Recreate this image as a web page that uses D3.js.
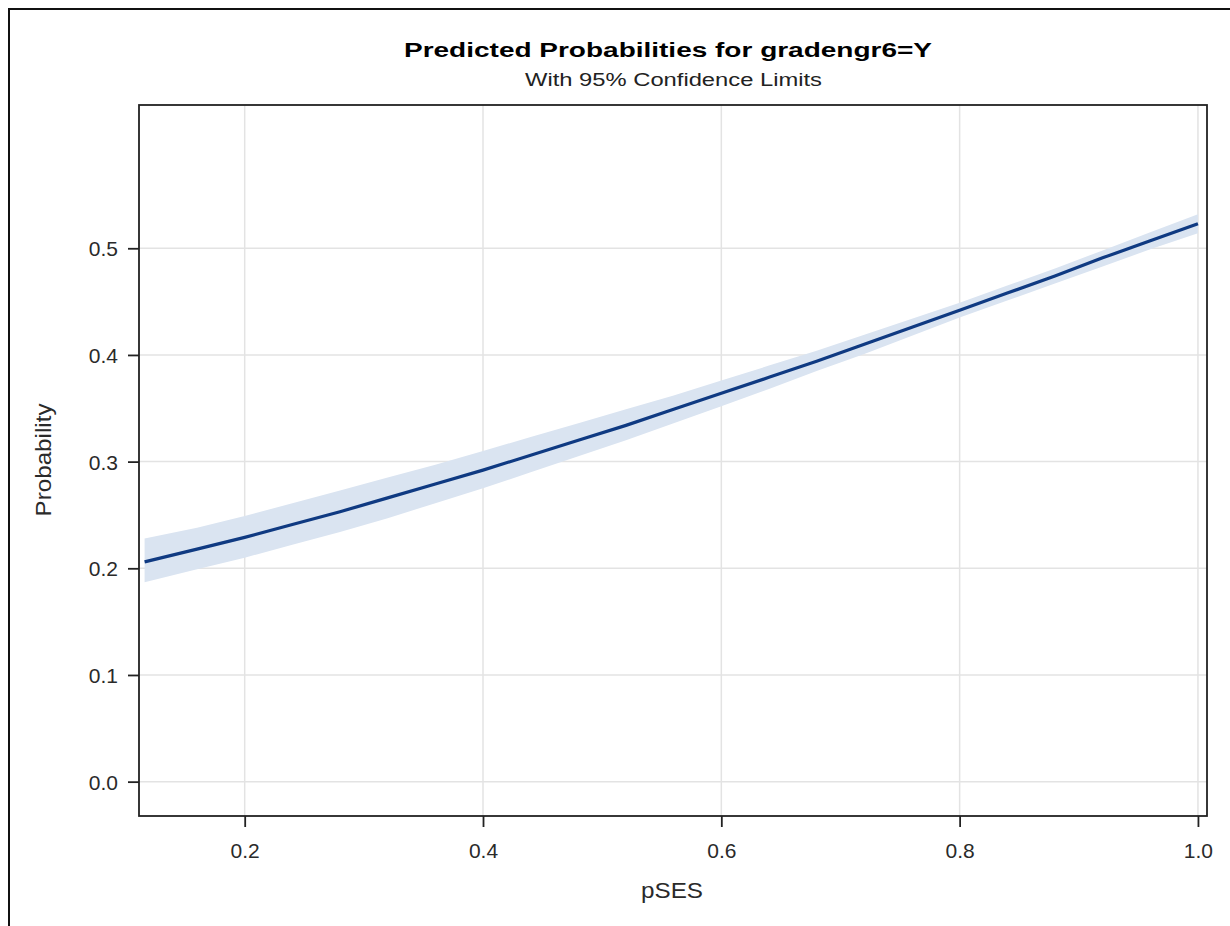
<!DOCTYPE html>
<html>
<head>
<meta charset="utf-8">
<script src="https://cdn.jsdelivr.net/npm/d3@7"></script>
<style>
  html, body { margin: 0; padding: 0; background: #fff; }
  svg { display: block; font-family: "Liberation Sans", Arial, sans-serif; }
</style>
</head>
<body>
<svg id="chart" width="1230" height="926"></svg>
<script>
// ---- data ----
const pses      = [0.116, 0.16, 0.20, 0.24, 0.28, 0.32, 0.36, 0.40, 0.44, 0.48, 0.52, 0.56, 0.60, 0.64, 0.68, 0.72, 0.76, 0.80, 0.84, 0.88, 0.92, 0.96, 1.00];
const predicted = [0.206, 0.218, 0.229, 0.241, 0.253, 0.266, 0.279, 0.292, 0.306, 0.320, 0.334, 0.349, 0.364, 0.379, 0.394, 0.410, 0.426, 0.442, 0.458, 0.474, 0.491, 0.507, 0.523];
const lowerCL   = [0.187, 0.199, 0.210, 0.222, 0.234, 0.247, 0.261, 0.275, 0.290, 0.305, 0.320, 0.336, 0.352, 0.368, 0.385, 0.401, 0.418, 0.435, 0.451, 0.467, 0.483, 0.499, 0.514];
const upperCL   = [0.228, 0.238, 0.249, 0.261, 0.273, 0.285, 0.297, 0.310, 0.323, 0.336, 0.349, 0.362, 0.376, 0.390, 0.404, 0.419, 0.434, 0.449, 0.465, 0.481, 0.498, 0.515, 0.532];
const xTicks = [0.2, 0.4, 0.6, 0.8, 1.0];
const yTicks = [0.0, 0.1, 0.2, 0.3, 0.4, 0.5];
const titleText = "Predicted Probabilities for gradengr6=Y";
const subtitleText = "With 95% Confidence Limits";
const xLabel = "pSES";
const yLabel = "Probability";

const rows = pses.map((x, i) => ({ x, p: predicted[i], lo: lowerCL[i], hi: upperCL[i] }));

const svg = d3.select("#chart");
const W = 1230, H = 926;
const plot = { left: 139, top: 105, right: 1207, bottom: 816 };
const FONT = "'Liberation Sans', Arial, sans-serif";

// outer frame
svg.append("rect")
  .attr("x", 9).attr("y", 9).attr("width", W).attr("height", H)
  .attr("fill", "none").attr("stroke", "#111").attr("stroke-width", 2);

const x = d3.scaleLinear().domain([0.1113, 1.0076]).range([plot.left, plot.right]);
const y = d3.scaleLinear().domain([-0.0322, 0.6343]).range([plot.bottom, plot.top]);

// grid
const g = svg.append("g");
g.selectAll("line.vgrid").data(xTicks).join("line")
  .attr("x1", d => x(d)).attr("x2", d => x(d))
  .attr("y1", plot.top).attr("y2", plot.bottom)
  .attr("stroke", "#e3e3e3").attr("stroke-width", 1.5);
g.selectAll("line.hgrid").data(yTicks).join("line")
  .attr("y1", d => y(d)).attr("y2", d => y(d))
  .attr("x1", plot.left).attr("x2", plot.right)
  .attr("stroke", "#e3e3e3").attr("stroke-width", 1.5);

// confidence band
const area = d3.area().x(d => x(d.x)).y0(d => y(d.lo)).y1(d => y(d.hi));
g.append("path").datum(rows).attr("d", area).attr("fill", "#dae4f1");

// predicted line
const line = d3.line().x(d => x(d.x)).y(d => y(d.p));
g.append("path").datum(rows).attr("d", line)
  .attr("fill", "none").attr("stroke", "#0f3a82").attr("stroke-width", 3.2);

// plot frame
svg.append("rect")
  .attr("x", plot.left).attr("y", plot.top)
  .attr("width", plot.right - plot.left).attr("height", plot.bottom - plot.top)
  .attr("fill", "none").attr("stroke", "#222").attr("stroke-width", 1.8);

// axes
const xAxis = d3.axisBottom(x).tickValues(xTicks).tickFormat(d3.format(".1f")).tickSize(11).tickSizeOuter(0);
const xg = svg.append("g").attr("transform", `translate(0,${plot.bottom})`).call(xAxis);
xg.select(".domain").remove();
xg.selectAll(".tick line").attr("stroke", "#222").attr("stroke-width", 1.8);
xg.selectAll(".tick text").attr("fill", "#2a2a2a").attr("font-size", 21)
  .attr("font-family", FONT).attr("y", 42).attr("dy", null);

const yAxis = d3.axisLeft(y).tickValues(yTicks).tickFormat(d3.format(".1f")).tickSize(11).tickSizeOuter(0);
const yg = svg.append("g").attr("transform", `translate(${plot.left},0)`).call(yAxis);
yg.select(".domain").remove();
yg.selectAll(".tick line").attr("stroke", "#222").attr("stroke-width", 1.8);
yg.selectAll(".tick text").attr("fill", "#2a2a2a").attr("font-size", 21)
  .attr("font-family", FONT).attr("x", -21).attr("dy", "0.36em");

// titles
svg.append("text").attr("x", 668).attr("y", 57).attr("text-anchor", "middle")
  .attr("font-size", 20).attr("font-weight", "bold").attr("fill", "#000")
  .attr("textLength", 528).attr("lengthAdjust", "spacingAndGlyphs").text(titleText);
svg.append("text").attr("x", 673.5).attr("y", 86).attr("text-anchor", "middle")
  .attr("font-size", 18).attr("fill", "#222")
  .attr("textLength", 297).attr("lengthAdjust", "spacingAndGlyphs").text(subtitleText);

// axis labels
svg.append("text").attr("x", 672).attr("y", 898).attr("text-anchor", "middle")
  .attr("font-size", 22).attr("fill", "#2a2a2a")
  .attr("textLength", 62).attr("lengthAdjust", "spacingAndGlyphs").text(xLabel);
svg.append("text").attr("transform", "translate(51,460) rotate(-90)").attr("text-anchor", "middle")
  .attr("font-size", 22).attr("fill", "#2a2a2a")
  .attr("textLength", 113).attr("lengthAdjust", "spacingAndGlyphs").text(yLabel);
</script>
</body>
</html>
